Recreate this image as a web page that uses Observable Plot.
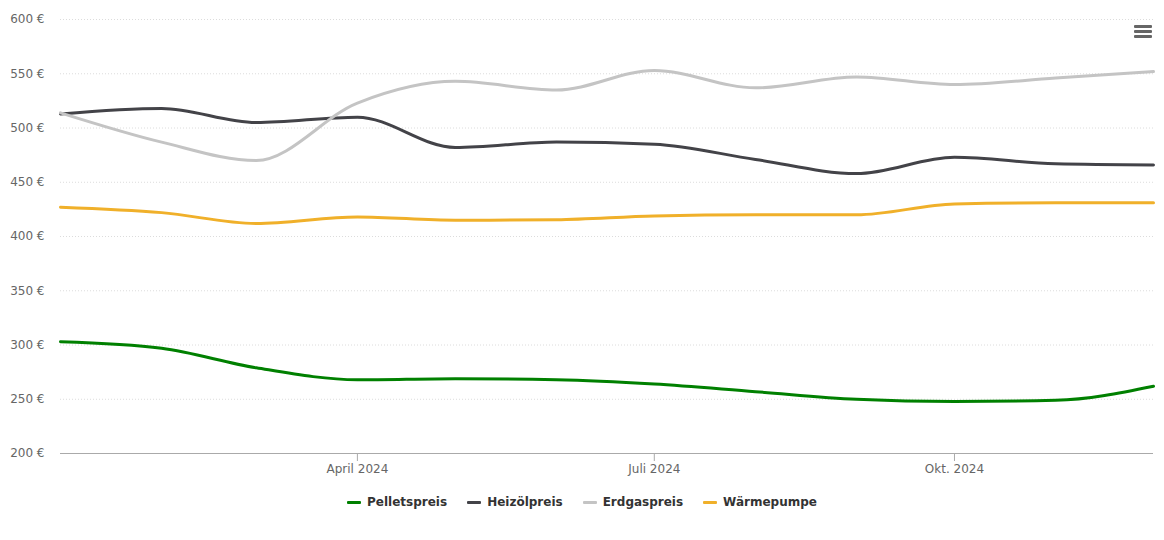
<!DOCTYPE html>
<html><head><meta charset="utf-8">
<script src="https://cdn.jsdelivr.net/npm/d3@7"></script>
<script src="https://cdn.jsdelivr.net/npm/@observablehq/plot@0.6"></script>
<style>
body{margin:0;background:#fff;font-family:"DejaVu Sans",sans-serif;}
#wrap{position:relative;width:1164px;height:540px;}
#legend{position:absolute;top:495px;left:0;width:1164px;display:flex;justify-content:center;gap:20px;font-size:12px;font-weight:bold;color:#333;}
#legend .it{display:flex;align-items:center;gap:6px;}
#legend .sw{width:14px;height:3px;border-radius:1px;}
#menu{position:absolute;left:1134px;top:25px;width:18px;}
#menu div{height:3px;background:#666;margin-bottom:2px;border-radius:1px;}
</style></head>
<body><div id="wrap"><div id="chart"></div><div id="legend"></div><div id="menu"><div></div><div></div><div></div></div></div>
<script>
const months = ["2024-01-01","2024-02-01","2024-03-01","2024-04-01","2024-05-01","2024-06-01","2024-07-01","2024-08-01","2024-09-01","2024-10-01","2024-11-01","2024-12-01"];
const seriesNames = ["Pelletspreis","Heizölpreis","Erdgaspreis","Wärmepumpe"];
const seriesColors = ["#008000","#434348","#c4c4c4","#f0b02a"];
const pellets = [303,297,279,268,269,268,264,257,250,248,249,262];
const heizoel = [513,518,505,510,482,487,485,471,458,473,467,466];
const erdgas  = [514,487,470,523,543,535,553,537,547,540,546,552];
const waerme  = [427,422,412,418,415,415.5,419,420,420,430,431,431];
const yTicks = [200,250,300,350,400,450,500,550,600];
const xTickDates = ["2024-04-01","2024-07-01","2024-10-01"];
const xTickLabels = ["April 2024","Juli 2024","Okt. 2024"];

const values = [pellets, heizoel, erdgas, waerme];
const data = [];
seriesNames.forEach((s,i)=>months.forEach((m,j)=>data.push({series:s,date:new Date(m+"T00:00:00Z"),value:values[i][j]})));
const tickDates = xTickDates.map(d=>new Date(d+"T00:00:00Z"));

const chart = Plot.plot({
  width:1164, height:480,
  marginTop:19, marginBottom:27, marginLeft:60, marginRight:11,
  style:{fontFamily:"DejaVu Sans, sans-serif", fontSize:"12px", color:"#666"},
  x:{type:"utc", domain:[new Date("2024-01-01T00:00:00Z"), new Date("2024-12-01T00:00:00Z")]},
  y:{domain:[200,600]},
  color:{domain:seriesNames, range:seriesColors},
  marks:[
    Plot.gridY(yTicks.slice(1), {stroke:"#dcdcdc", strokeOpacity:1, strokeDasharray:"1,2"}),
    Plot.axisY({ticks:yTicks, tickSize:0, tickPadding:16, tickFormat:d=>d+" €", fill:"#666", fontSize:12, label:null}),
    Plot.axisX({ticks:tickDates, tickSize:8, tickPadding:3, stroke:"#aaa", tickFormat:(d,i)=>xTickLabels[i], fill:"#666", fontSize:12, label:null}),
    Plot.ruleY([200], {stroke:"#aaa"}),
    Plot.line(data, {x:"date", y:"value", z:"series", stroke:"series", strokeWidth:3, curve:"monotone-x"})
  ]
});
document.getElementById("chart").appendChild(chart);
const lg = document.getElementById("legend");
seriesNames.forEach((s,i)=>{
  const it=document.createElement("div"); it.className="it";
  it.innerHTML=`<span class="sw" style="background:${seriesColors[i]}"></span><span>${s}</span>`;
  lg.appendChild(it);
});
</script></body></html>
